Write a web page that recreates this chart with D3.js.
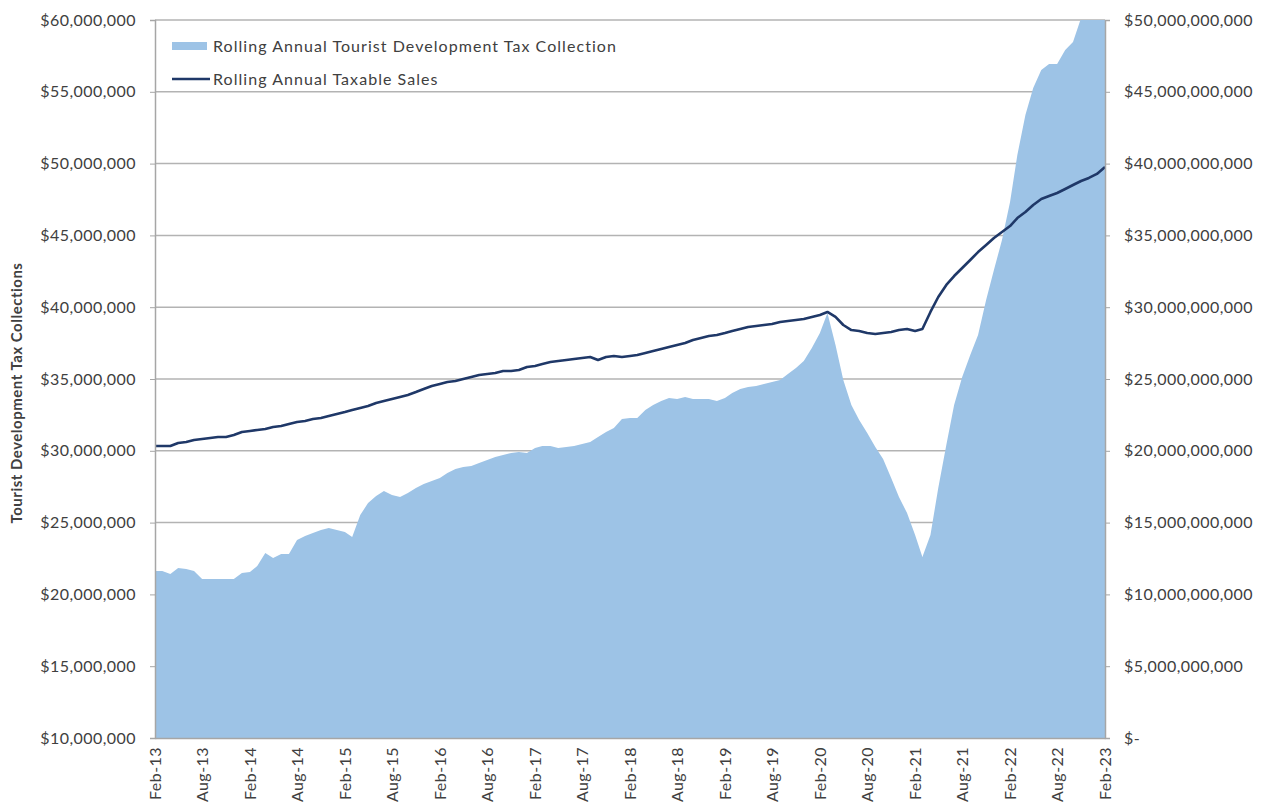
<!DOCTYPE html>
<html>
<head>
<meta charset="utf-8">
<script src="https://cdn.jsdelivr.net/npm/d3@7"></script>
<style>
  body { margin: 0; background: #fff; }
  text { font-family: Lato, "Open Sans", sans-serif; fill: #404040; }
</style>
</head>
<body>
<svg id="chart" width="1269" height="802"></svg>
<script>
// months Feb-13 .. Feb-23
const startMonth = new Date(2013, 1, 1);
const monthCount = 121;

// rolling annual tourist development tax collection, $ millions (left axis)
const taxCollection = [
  21.63, 21.63, 21.42, 21.84, 21.77, 21.63, 21.07, 21.07, 21.07, 21.07,
  21.07, 21.49, 21.56, 21.98, 22.88, 22.53, 22.81, 22.81, 23.79, 24.07,
  24.28, 24.48, 24.62, 24.48, 24.35, 24.00, 25.53, 26.36, 26.85, 27.20,
  26.92, 26.78, 27.06, 27.41, 27.69, 27.90, 28.11, 28.45, 28.73, 28.87,
  28.94, 29.15, 29.36, 29.57, 29.71, 29.85, 29.92, 29.85, 30.19, 30.33,
  30.33, 30.19, 30.26, 30.33, 30.47, 30.61, 30.96, 31.31, 31.59, 32.21,
  32.28, 32.28, 32.84, 33.19, 33.47, 33.68, 33.61, 33.75, 33.61, 33.61,
  33.61, 33.47, 33.68, 34.03, 34.30, 34.44, 34.51, 34.65, 34.79, 34.93,
  35.35, 35.77, 36.25, 37.16, 38.20, 39.60, 37.37, 34.93, 33.19, 32.14,
  31.24, 30.26, 29.43, 28.11, 26.78, 25.67, 24.14, 22.60, 24.14, 27.41,
  30.40, 33.19, 35.14, 36.67, 38.06, 40.50, 42.59, 44.68, 47.33, 50.60,
  53.38, 55.26, 56.52, 56.94, 56.94, 57.91, 58.47, 60.14, 61.50, 62.50,
  63.50
];

// rolling annual taxable sales, $ billions (right axis)
const taxableSales = [
  20.33, 20.33, 20.33, 20.54, 20.61, 20.75, 20.82, 20.89, 20.96, 20.96,
  21.10, 21.31, 21.38, 21.45, 21.52, 21.66, 21.73, 21.87, 22.01, 22.08,
  22.21, 22.28, 22.42, 22.56, 22.70, 22.84, 22.98, 23.12, 23.33, 23.47,
  23.61, 23.75, 23.89, 24.09, 24.30, 24.51, 24.65, 24.79, 24.86, 25.00,
  25.14, 25.28, 25.35, 25.42, 25.56, 25.56, 25.63, 25.84, 25.91, 26.04,
  26.18, 26.25, 26.32, 26.39, 26.46, 26.53, 26.32, 26.53, 26.60, 26.53,
  26.60, 26.67, 26.81, 26.95, 27.09, 27.23, 27.37, 27.51, 27.72, 27.86,
  27.99, 28.06, 28.20, 28.34, 28.48, 28.62, 28.69, 28.76, 28.83, 28.97,
  29.04, 29.11, 29.18, 29.32, 29.46, 29.67, 29.32, 28.76, 28.41, 28.34,
  28.20, 28.13, 28.20, 28.27, 28.41, 28.48, 28.34, 28.48, 29.67, 30.71,
  31.55, 32.17, 32.73, 33.29, 33.84, 34.33, 34.82, 35.24, 35.65, 36.21,
  36.63, 37.12, 37.53, 37.74, 37.95, 38.23, 38.51, 38.79, 39.00, 39.28,
  39.76
];

const leftTicks = [10, 15, 20, 25, 30, 35, 40, 45, 50, 55, 60];   // $ millions
const rightTicks = [0, 5, 10, 15, 20, 25, 30, 35, 40, 45, 50];    // $ billions
const seriesNames = ["Rolling Annual Tourist Development Tax Collection", "Rolling Annual Taxable Sales"];
const yTitle = "Tourist Development Tax Collections";

const months = d3.range(monthCount).map(i => d3.timeMonth.offset(startMonth, i));
const data = months.map((d, i) => ({ date: d, tax: taxCollection[i], sales: taxableSales[i] }));

const margin = { top: 20, right: 164, bottom: 64, left: 155 };
const width = 1269 - margin.left - margin.right;
const height = 802 - margin.top - margin.bottom;

const svg = d3.select("#chart");
const g = svg.append("g").attr("transform", `translate(${margin.left},${margin.top})`);

const x = d3.scaleTime().domain([months[0], months[monthCount - 1]]).range([0, width]);
const yL = d3.scaleLinear().domain([10, 60]).range([height, 0]);
const yR = d3.scaleLinear().domain([0, 50]).range([height, 0]);

svg.append("defs").append("clipPath").attr("id", "plotClip")
  .append("rect").attr("width", width).attr("height", height);

// gridlines
g.append("g")
  .selectAll("line")
  .data(leftTicks)
  .join("line")
  .attr("x1", 0).attr("x2", width)
  .attr("y1", d => yL(d)).attr("y2", d => yL(d))
  .attr("stroke", "#b3b3b3").attr("stroke-width", 1.5);

// area
g.append("path")
  .datum(data)
  .attr("clip-path", "url(#plotClip)")
  .attr("fill", "#9dc3e6")
  .attr("d", d3.area().x(d => x(d.date)).y0(height).y1(d => yL(d.tax)));

// line
g.append("path")
  .datum(data)
  .attr("fill", "none")
  .attr("stroke", "#1f3868")
  .attr("stroke-width", 2.6)
  .attr("stroke-linejoin", "round")
  .attr("d", d3.line().x(d => x(d.date)).y(d => yR(d.sales)));

// axes
const fmtL = v => "$" + d3.format(",")(v * 1e6);
const fmtR = v => v === 0 ? "$-" : "$" + d3.format(",")(v * 1e9);

const axL = g.append("g")
  .call(d3.axisLeft(yL).tickValues(leftTicks).tickFormat(fmtL).tickSize(5).tickPadding(14));
const axR = g.append("g").attr("transform", `translate(${width},0)`)
  .call(d3.axisRight(yR).tickValues(rightTicks).tickFormat(fmtR).tickSize(5).tickPadding(14));
const xTicks = months.filter((d, i) => i % 6 === 0);
const axB = g.append("g").attr("transform", `translate(0,${height})`)
  .call(d3.axisBottom(x).tickValues(xTicks).tickFormat(d3.timeFormat("%b-%y")).tickSize(0));

axB.selectAll("text")
  .attr("transform", "rotate(-90)")
  .attr("text-anchor", "end")
  .attr("x", -9).attr("y", 0).attr("dy", "0.35em");

[axL, axR, axB].forEach(a => {
  a.select(".domain").attr("stroke", "#a6a6a6").attr("stroke-width", 1.5);
  a.selectAll(".tick line").attr("stroke", "#a6a6a6");
  a.selectAll("text").style("font-family", "Lato, 'Open Sans', sans-serif")
    .style("font-size", "16px").style("letter-spacing", "0.45px").attr("fill", "#404040");
});

// y title
svg.append("text")
  .attr("transform", `translate(22,${margin.top + 373}) rotate(-90)`)
  .attr("text-anchor", "middle")
  .style("font-size", "15px").style("font-weight", "bold").style("letter-spacing", "0.5px")
  .attr("fill", "#262626")
  .text(yTitle);

// legend
const lg = g.append("g").attr("transform", "translate(17,26)");
lg.append("rect").attr("x", 0).attr("y", -4).attr("width", 35).attr("height", 8).attr("fill", "#9dc3e6");
lg.append("text").attr("x", 41).attr("y", 0).attr("dy", "0.35em")
  .style("font-size", "16px").style("letter-spacing", "1.05px").text(seriesNames[0]);
lg.append("line").attr("x1", 0).attr("x2", 38).attr("y1", 33).attr("y2", 33)
  .attr("stroke", "#1f3868").attr("stroke-width", 2.6);
lg.append("text").attr("x", 41).attr("y", 33).attr("dy", "0.35em")
  .style("font-size", "16px").style("letter-spacing", "1.05px").text(seriesNames[1]);
</script>
</body>
</html>
